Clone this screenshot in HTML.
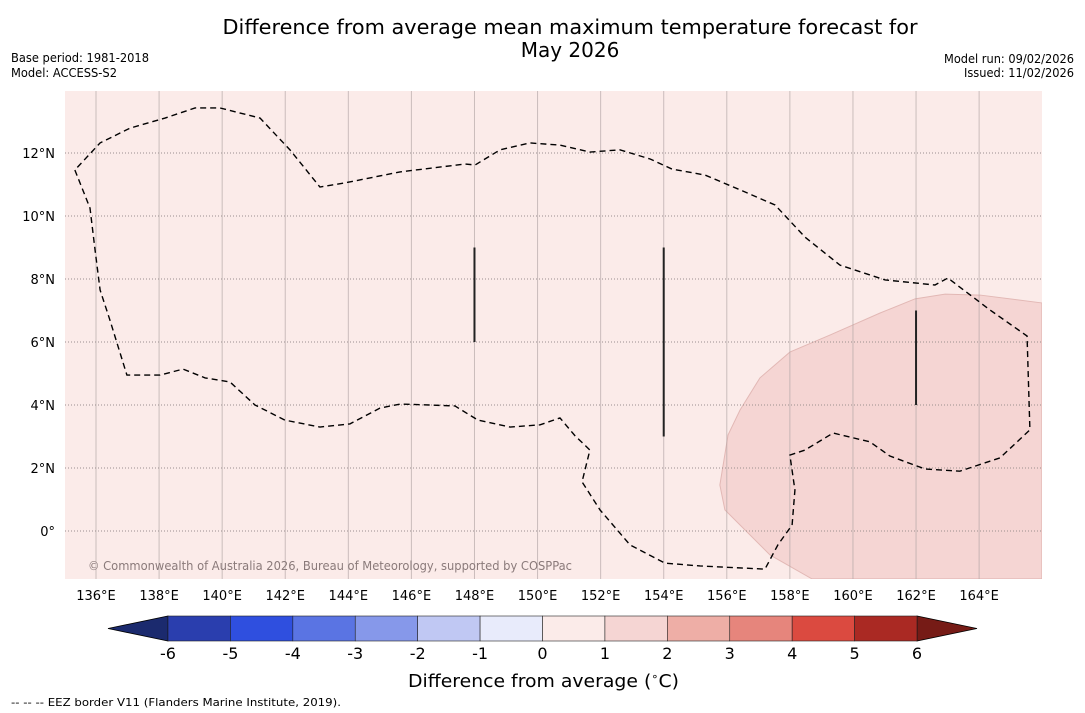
<!DOCTYPE html>
<html><head><meta charset="utf-8"><style>
html,body{margin:0;padding:0;background:#fff;width:1085px;height:713px;overflow:hidden}
svg text{font-family:"DejaVu Sans","Liberation Sans",sans-serif}
</style></head><body>
<svg id="chart" width="1085" height="713" viewBox="0 0 1085 713" xmlns="http://www.w3.org/2000/svg">
<text x="570" y="34" font-size="20" text-anchor="middle" textLength="695" lengthAdjust="spacingAndGlyphs">Difference from average mean maximum temperature forecast for</text>
<text x="570" y="57" font-size="20" text-anchor="middle">May 2026</text>
<text x="11" y="62" font-size="12" textLength="138" lengthAdjust="spacingAndGlyphs">Base period: 1981-2018</text>
<text x="11" y="77" font-size="12" textLength="106" lengthAdjust="spacingAndGlyphs">Model: ACCESS-S2</text>
<text x="1074" y="63" font-size="12" text-anchor="end" textLength="130" lengthAdjust="spacingAndGlyphs">Model run: 09/02/2026</text>
<text x="1074" y="77" font-size="12" text-anchor="end" textLength="110" lengthAdjust="spacingAndGlyphs">Issued: 11/02/2026</text>
<g id="map"></g>
<g id="cbar"></g>
<text x="408" y="687" font-size="18" textLength="271" lengthAdjust="spacingAndGlyphs">Difference from average (<tspan font-size="11" dy="-7">∘</tspan><tspan dy="7">C)</tspan></text>
<text x="11" y="706" font-size="11" textLength="330" lengthAdjust="spacingAndGlyphs">--  --  -- EEZ border V11 (Flanders Marine Institute, 2019).</text>
</svg>
<script>
const lonTicks=[136,138,140,142,144,146,148,150,152,154,156,158,160,162,164];
const latTicks=[0,2,4,6,8,10,12];
const eezLon=[135.33,135.81,135.97,136.13,136.44,136.98,138.03,138.76,139.46,140.25,141.04,141.99,143.10,144.05,145.00,145.64,146.59,147.38,148.11,149.13,150.08,150.71,151.19,151.66,151.41,151.98,152.93,154.04,155.15,157.21,157.62,158.07,158.16,158.00,158.48,159.37,160.54,161.17,162.28,163.39,164.66,165.61,165.52,164.34,163.01,162.60,161.02,159.59,158.48,157.53,156.42,155.31,154.26,153.57,152.61,151.66,150.71,149.76,148.81,148.02,147.70,145.64,143.89,143.10,142.15,141.20,139.93,139.14,138.19,137.08,136.13,135.33];
const eezLat=[11.46,10.25,8.92,7.65,6.70,4.95,4.95,5.14,4.86,4.73,4.00,3.52,3.30,3.40,3.90,4.03,4.00,3.97,3.52,3.30,3.37,3.59,3.02,2.57,1.56,0.67,-0.44,-1.02,-1.11,-1.21,-0.44,0.19,1.30,2.41,2.57,3.11,2.83,2.38,1.97,1.90,2.32,3.21,6.19,7.02,8.03,7.81,7.97,8.44,9.33,10.35,10.83,11.30,11.49,11.81,12.10,12.03,12.25,12.32,12.10,11.62,11.65,11.40,11.05,10.92,12.10,13.11,13.43,13.43,13.11,12.79,12.32,11.46];
const anomLon=[155.78,156.04,156.42,157.05,158.00,159.27,160.86,161.97,162.92,164.03,165.99,165.99,158.70,157.37,155.94];
const anomLat=[1.46,3.05,3.84,4.86,5.68,6.22,6.92,7.37,7.52,7.49,7.24,-1.52,-1.52,-0.76,0.67];
const segLon=[148,154,162];
const segLatTop=[9,9,7];
const segLatBot=[6,3,4];
const cbLevels=[-6,-5,-4,-3,-2,-1,0,1,2,3,4,5,6];
const cbColors=['#2a3eae','#2f4fdf','#5a74e3','#8698ea','#c0c8f3','#e8ebfb','#fbebe9','#f5d5d3','#eeaea6','#e6857c','#db4a40','#aa2923'];
const NS='http://www.w3.org/2000/svg';
const X0=65,X1=1042,Y0=91,Y1=579;
const lonX=l=>96+(l-136)*31.54;
const latY=l=>531-l*31.5;
function mk(tag,attrs,parent){const e=document.createElementNS(NS,tag);for(const k in attrs)e.setAttribute(k,attrs[k]);parent.appendChild(e);return e;}
const map=document.getElementById('map');
const defs=mk('defs',{},map);const cp=mk('clipPath',{id:'clip'},defs);mk('rect',{x:X0,y:Y0,width:X1-X0,height:Y1-Y0},cp);
const bg=mk('rect',{x:X0,y:Y0,width:X1-X0,height:Y1-Y0,fill:'#fbebe9'},map);


const g=mk('g',{'clip-path':'url(#clip)'},map);
const an=mk('polygon',{points:anomLon.map((l,i)=>lonX(l)+','+latY(anomLat[i])).join(' '),fill:'#f5d5d3',stroke:'#e2b8b5','stroke-width':1},g);


lonTicks.forEach(l=>{const x=lonX(l);const ln=mk('line',{x1:x,x2:x,y1:Y0,y2:Y1,stroke:'#b0a4a4','stroke-width':1,opacity:0.65},g);


const t=mk('text',{x:x,y:600,'font-size':13,'text-anchor':'middle'},map);t.textContent=l+'°E';

});
latTicks.forEach(l=>{const y=latY(l);const ln=mk('line',{x1:X0,x2:X1,y1:y,y2:y,stroke:'#9a8e8e','stroke-width':1,'stroke-dasharray':'1,2'},g);


const t=mk('text',{x:55,y:y+5,'font-size':13,'text-anchor':'end'},map);t.textContent=l===0?'0°':l+'°N';

});
const eez=mk('polyline',{points:eezLon.map((l,i)=>lonX(l)+','+latY(eezLat[i])).join(' '),fill:'none',stroke:'#000','stroke-width':1.4,'stroke-dasharray':'6,4'},g);


segLon.forEach((l,i)=>{const s=mk('line',{x1:lonX(l),x2:lonX(l),y1:latY(segLatTop[i]),y2:latY(segLatBot[i]),stroke:'#222','stroke-width':2},g);

});
const cr=mk('text',{x:88,y:570,'font-size':12,fill:'#8a7a7a',textLength:484,lengthAdjust:'spacingAndGlyphs'},map);cr.textContent='© Commonwealth of Australia 2026, Bureau of Meteorology, supported by COSPPac';


const cb=document.getElementById('cbar');
const CX0=168,CX1=917,CY0=616,CY1=641;
const cx=v=>CX0+(v-cbLevels[0])/(cbLevels[cbLevels.length-1]-cbLevels[0])*(CX1-CX0);
const lt=mk('polygon',{points:`108,628.5 ${CX0},${CY0} ${CX0},${CY1}`,fill:'#1b2a6e',stroke:'#000','stroke-width':0.8},cb);


const rt=mk('polygon',{points:`977,628.5 ${CX1},${CY0} ${CX1},${CY1}`,fill:'#761b16',stroke:'#000','stroke-width':0.8},cb);


cbColors.forEach((c,i)=>{const r=mk('rect',{x:cx(cbLevels[i]),y:CY0,width:cx(cbLevels[i+1])-cx(cbLevels[i]),height:CY1-CY0,fill:c,stroke:'#222','stroke-width':0.6},cb);

});
cbLevels.forEach(v=>{const t=mk('text',{x:cx(v),y:659,'font-size':16,'text-anchor':'middle'},cb);t.textContent=v;

});
</script>
</body></html>
